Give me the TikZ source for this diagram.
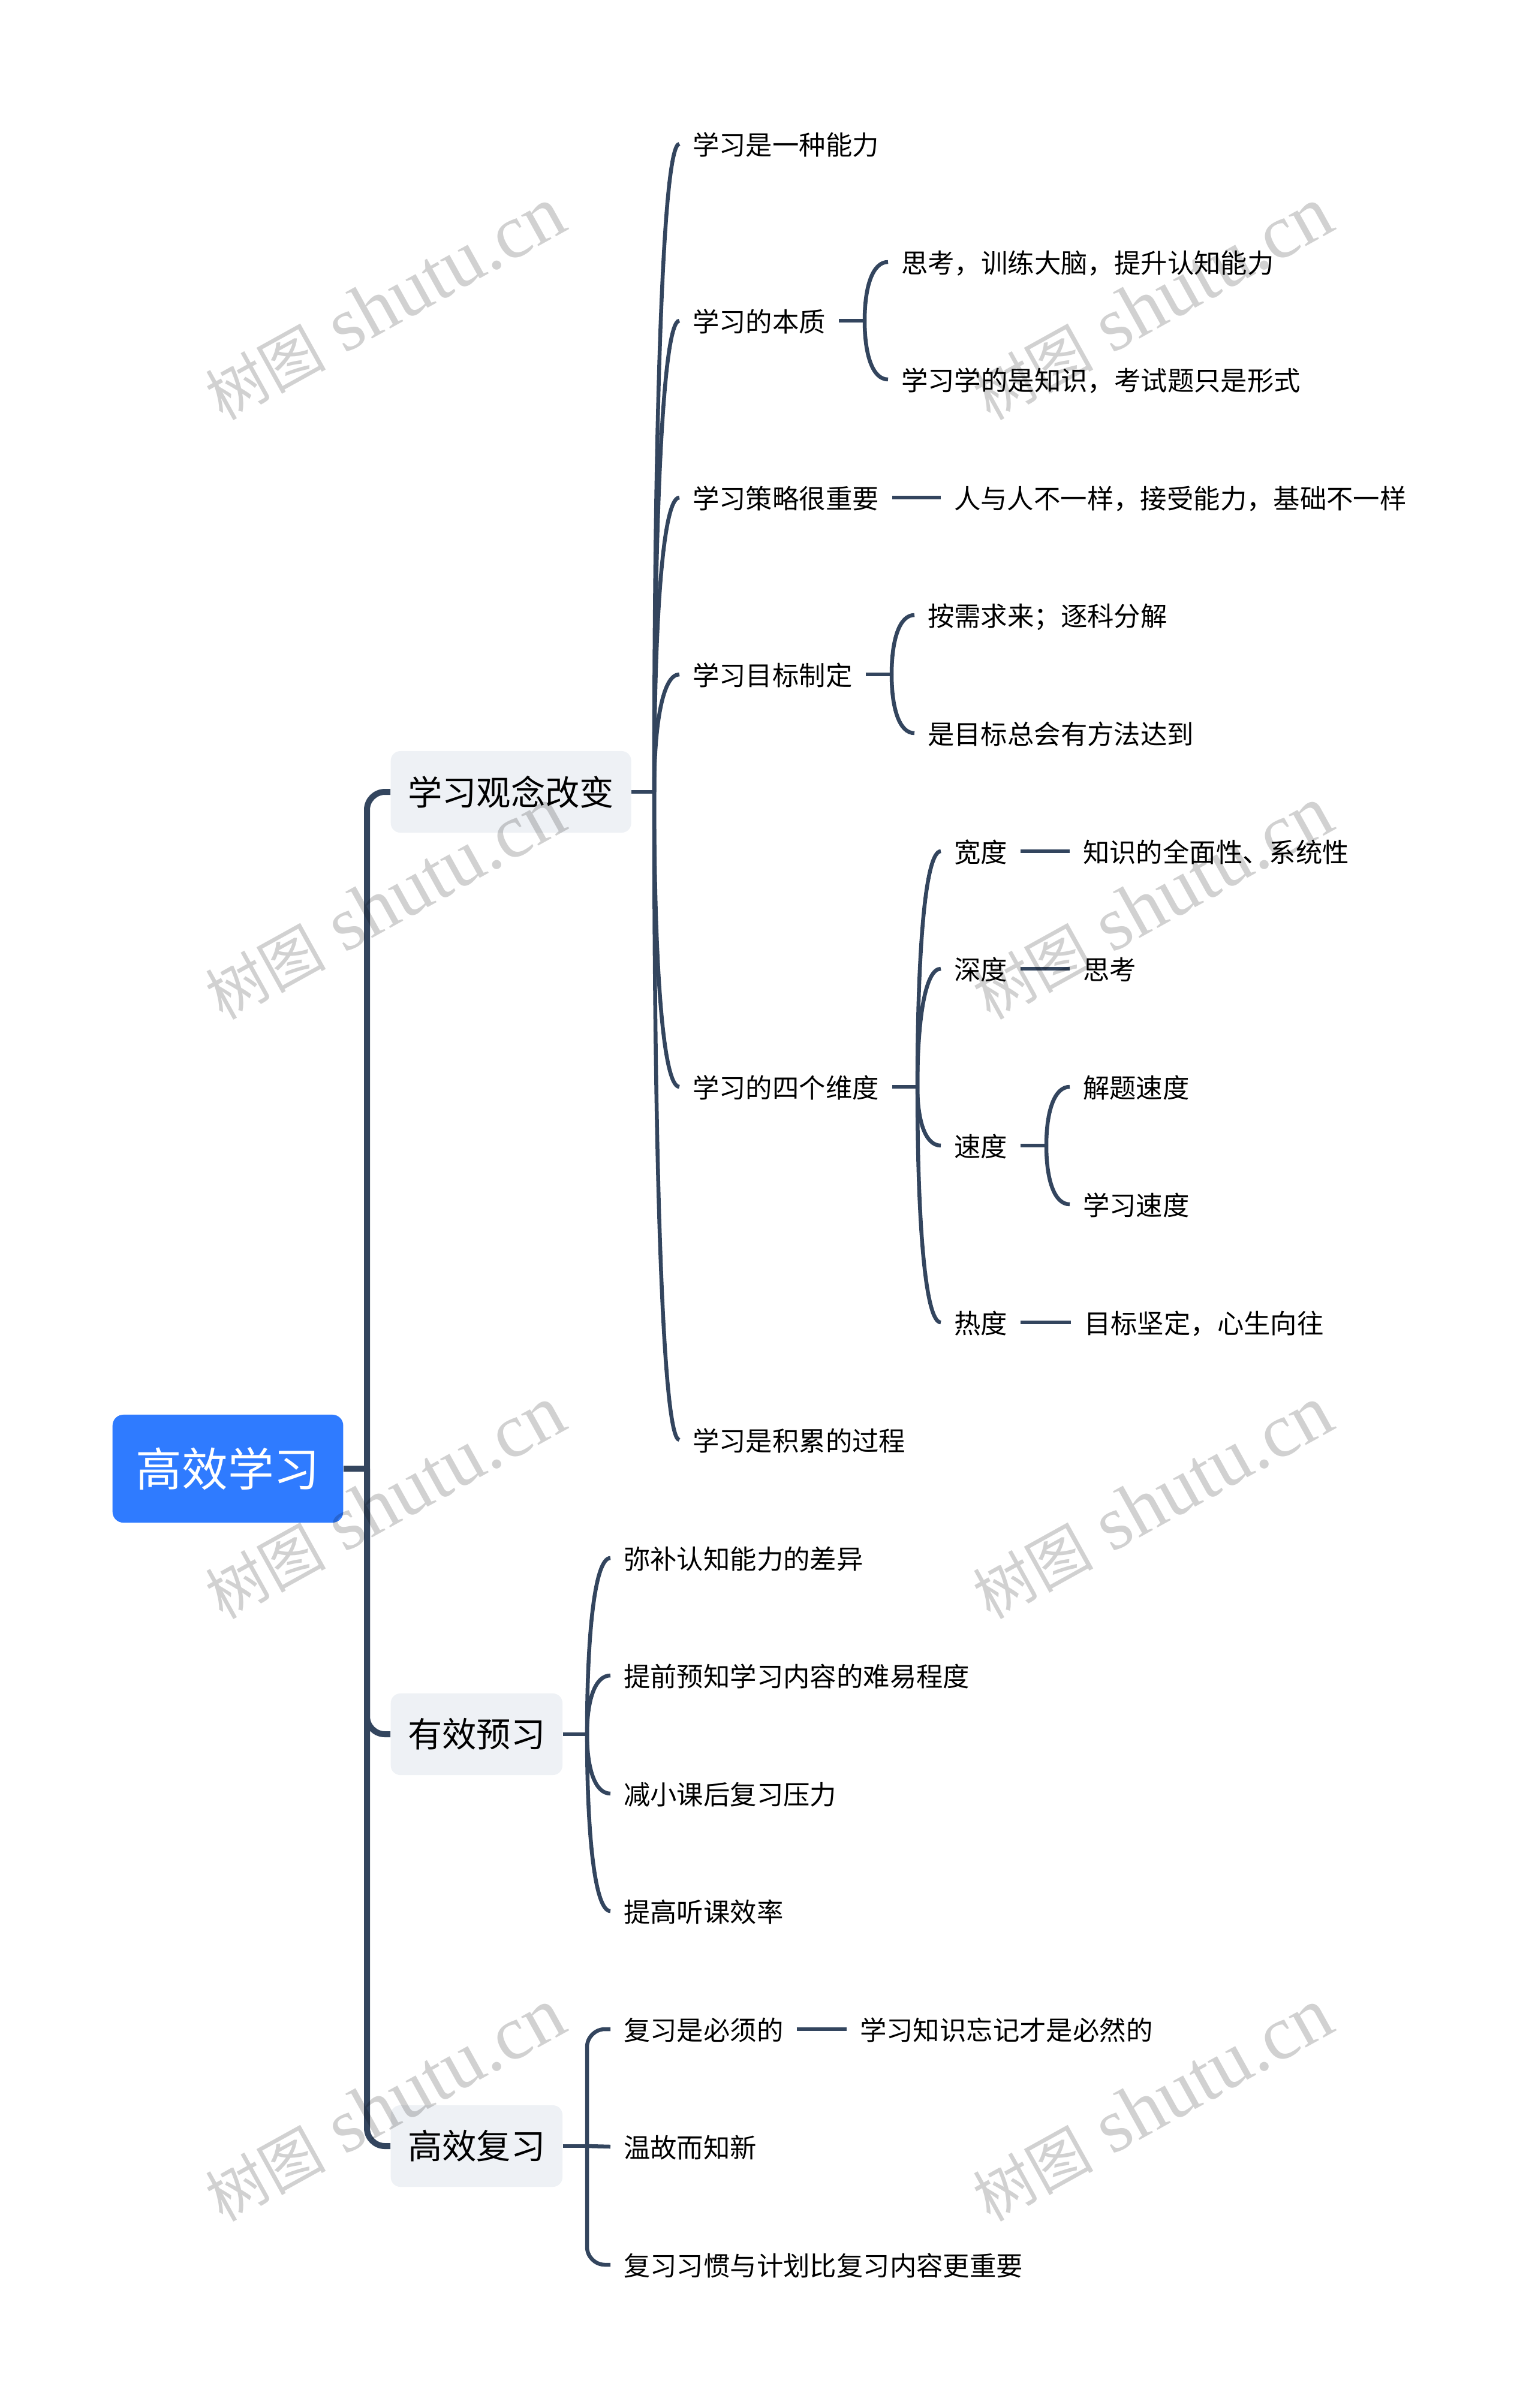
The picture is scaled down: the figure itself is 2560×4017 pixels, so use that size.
\documentclass[tikz,border=0pt]{standalone}
\usepackage{fontspec}
\usetikzlibrary{calc}
\setmainfont{Noto Sans CJK SC}
\newfontfamily\wmcjk{Noto Sans CJK SC}
\newfontfamily\wmlat{Liberation Serif}
\definecolor{lineC}{HTML}{33455E}
\definecolor{rootC}{HTML}{2F7BFF}
\definecolor{boxC}{HTML}{EEF1F5}
\tikzset{
 x=0.01cm,y=-0.01cm,
 leaf/.style={anchor=west,inner xsep=0.215cm,inner ysep=0pt,text height=13.7pt,text depth=3pt,font=\fontsize{12.62pt}{14pt}\selectfont,text=black},
 branch/.style={anchor=west,fill=boxC,rounded corners=0.16cm,inner xsep=0.285cm,inner ysep=0pt,minimum height=1.36cm,font=\fontsize{16.3pt}{18pt}\selectfont,text=black},
 rootbox/.style={anchor=west,fill=rootC,rounded corners=0.18cm,inner xsep=0.39cm,inner ysep=0pt,minimum height=1.8cm,font=\fontsize{21.8pt}{24pt}\selectfont,text=white},
 thick line/.style={draw=lineC,line width=0.1cm},
 conn/.style={draw=lineC,line width=0.065cm},
 elbow/.style={draw=lineC,line width=0.065cm,rounded corners=0.3cm},
 mark wm/.style={rotate=29,text=black,opacity=0.18,inner sep=0pt}
}
% curve from junction #1 to the west side of node #2
\newcommand{\cv}[2]{\draw[conn] (#1) .. controls ($(#1)!0.57!(#1|-#2.west)$) and ($(#1|-#2.west)!0.33!(#2.west)$) .. (#2.west);}
\newcommand{\wm}[2]{\node[mark wm] (#1) at #2 {{\wmcjk\fontsize{28.5pt}{32pt}\selectfont 树图}\hspace{9pt}{\wmlat\fontsize{36.4pt}{40pt}\selectfont shutu.cn}};}
\begin{document}
\begin{tikzpicture}
\useasboundingbox (0,0) rectangle (2560,4017);
\fill[white] (0,0) rectangle (2560,4017);
% nodes
\node[rootbox] (root) at (187,2450) {高效学习};
\node[branch] (b1) at (651,1321) {学习观念改变};
\node[branch] (b2) at (651,2893) {有效预习};
\node[branch] (b3) at (651,3580) {高效复习};
\node[leaf] (a1) at (1133,240) {学习是一种能力};
\node[leaf] (a2) at (1133,535) {学习的本质};
\node[leaf] (a21) at (1481,437) {思考，训练大脑，提升认知能力};
\node[leaf] (a22) at (1481,633) {学习学的是知识，考试题只是形式};
\node[leaf] (a3) at (1133,830) {学习策略很重要};
\node[leaf] (a31) at (1569,830) {人与人不一样，接受能力，基础不一样};
\node[leaf] (a4) at (1133,1125) {学习目标制定};
\node[leaf] (a41) at (1525,1026) {按需求来；逐科分解};
\node[leaf] (a42) at (1525,1223) {是目标总会有方法达到};
\node[leaf] (a5) at (1133,1813) {学习的四个维度};
\node[leaf] (w1) at (1569,1420) {宽度};
\node[leaf] (w11) at (1784,1420) {知识的全面性、系统性};
\node[leaf] (w2) at (1569,1616) {深度};
\node[leaf] (w21) at (1784,1616) {思考};
\node[leaf] (w3) at (1569,1911) {速度};
\node[leaf] (w31) at (1784,1813) {解题速度};
\node[leaf] (w32) at (1784,2009) {学习速度};
\node[leaf] (w4) at (1569,2206) {热度};
\node[leaf] (w41) at (1786,2206) {目标坚定，心生向往};
\node[leaf] (a6) at (1133,2402) {学习是积累的过程};
\node[leaf] (p1) at (1018,2599) {弥补认知能力的差异};
\node[leaf] (p2) at (1018,2795) {提前预知学习内容的难易程度};
\node[leaf] (p3) at (1018,2992) {减小课后复习压力};
\node[leaf] (p4) at (1018,3188) {提高听课效率};
\node[leaf] (r1) at (1018,3385) {复习是必须的};
\node[leaf] (r11) at (1412,3385) {学习知识忘记才是必然的};
\node[leaf] (r2) at (1018,3581) {温故而知新};
\node[leaf] (r3) at (1018,3778) {复习习惯与计划比复习内容更重要};
% junctions
\coordinate (jm) at (612,2450);
\coordinate (j1) at (1091,1321);
\coordinate (j2) at (1442,535);
\coordinate (j4) at (1487,1125);
\coordinate (j5) at (1530,1813);
\coordinate (j53) at (1745,1911);
\coordinate (jp) at (979,2893);
\coordinate (jr) at (979,3580);
% main spine
\draw[thick line] (root.east) -- (jm);
\draw[thick line,rounded corners=0.3cm] (b1.west) -| (jm) |- (b3.west);
\draw[thick line,rounded corners=0.3cm] (jm) |- (b2.west);
% first level
\draw[conn] (b1.east) -- (j1);
\foreach \n in {a1,a2,a3,a4,a5,a6}{\cv{j1}{\n}}
\draw[conn] (a2.east) -- (j2); \cv{j2}{a21} \cv{j2}{a22}
\draw[conn] (a3.east) -- (a31.west);
\draw[conn] (a4.east) -- (j4); \cv{j4}{a41} \cv{j4}{a42}
\draw[conn] (a5.east) -- (j5);
\foreach \n in {w1,w2,w3,w4}{\cv{j5}{\n}}
\draw[conn] (w1.east) -- (w11.west);
\draw[conn] (w2.east) -- (w21.west);
\draw[conn] (w3.east) -- (j53); \cv{j53}{w31} \cv{j53}{w32}
\draw[conn] (w4.east) -- (w41.west);
\draw[conn] (b2.east) -- (jp);
\foreach \n in {p1,p2,p3,p4}{\cv{jp}{\n}}
\draw[conn] (b3.east) -- (jr);
\draw[elbow] (r1.west) -| (jr) |- (r3.west);
\draw[conn] (jr) -- (r2.west);
\draw[conn] (r1.east) -- (r11.west);
% watermarks
\wm{m1}{(642,507)} \wm{m2}{(1922,507)}
\wm{m3}{(642,1507)} \wm{m4}{(1922,1507)}
\wm{m5}{(642,2507)} \wm{m6}{(1922,2507)}
\wm{m7}{(642,3512)} \wm{m8}{(1922,3512)}
\end{tikzpicture}
\end{document}
